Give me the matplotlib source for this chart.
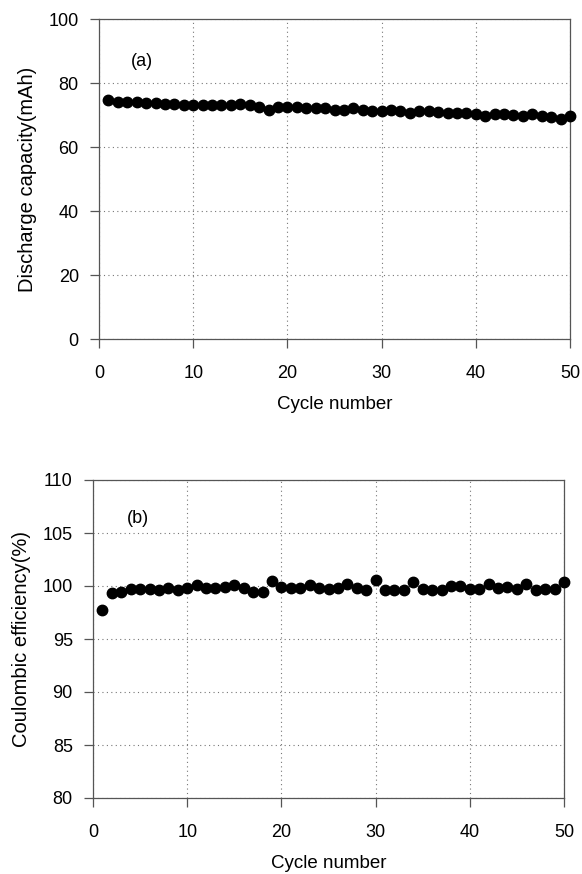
import matplotlib
matplotlib.use("Agg")
import matplotlib.pyplot as plt

# Cycle numbers shared by both panels
cycles = list(range(1, 51))

# (a) discharge capacity per cycle, mAh
capacity = [74.7, 74.2, 74.0, 74.0, 73.8, 73.7, 73.3, 73.3, 73.0, 73.0,
            73.0, 73.0, 73.0, 73.0, 73.3, 73.2, 72.4, 71.7, 72.4, 72.4,
            72.4, 72.1, 72.2, 72.1, 71.6, 71.6, 72.1, 71.7, 71.2, 71.4,
            71.6, 71.2, 70.7, 71.2, 71.4, 71.0, 70.6, 70.6, 70.6, 70.4,
            69.8, 70.4, 70.4, 70.0, 69.6, 70.4, 69.6, 69.3, 68.6, 69.6]

# (b) coulombic efficiency per cycle, %
efficiency = [97.7, 99.3, 99.4, 99.7, 99.7, 99.7, 99.6, 99.85, 99.65, 99.8,
              100.1, 99.85, 99.85, 99.9, 100.1, 99.8, 99.4, 99.4, 100.5, 99.9,
              99.85, 99.8, 100.1, 99.8, 99.7, 99.85, 100.15, 99.8, 99.6, 100.55,
              99.6, 99.6, 99.6, 100.4, 99.7, 99.6, 99.6, 100.0, 100.0, 99.7,
              99.7, 100.2, 99.85, 99.9, 99.7, 100.2, 99.6, 99.7, 99.7, 100.4]

x_ticks = [0, 10, 20, 30, 40, 50]
cap_ticks = [0, 20, 40, 60, 80, 100]
eff_ticks = [80, 85, 90, 95, 100, 105, 110]

plt.rcParams["font.family"] = ["Liberation Sans", "DejaVu Sans"]

fig = plt.figure(figsize=(5.82, 8.74), dpi=100)
ax_a = fig.add_axes([99 / 582, 1 - 339 / 874, 471 / 582, 320 / 874])
ax_b = fig.add_axes([93 / 582, 1 - 798 / 874, 471 / 582, 318 / 874])

spine_color = "#555555"


def style(ax, yticks, ylabel):
    ax.set_xlim(0, 50)
    ax.set_xticks(x_ticks)
    ax.set_ylim(yticks[0], yticks[-1])
    ax.set_yticks(yticks)
    ax.grid(True, linestyle=(0, (1, 3)), color="#777777", linewidth=0.8)
    ax.set_axisbelow(True)
    for s in ax.spines.values():
        s.set_color(spine_color)
        s.set_linewidth(0.9)
    ax.tick_params(direction="out", length=6.5, width=0.9, color=spine_color,
                   labelsize=13, colors="black")
    ax.tick_params(axis="x", pad=12)
    ax.tick_params(axis="y", pad=8)
    ax.set_xlabel("Cycle number", fontsize=13.5, labelpad=10)
    ax.set_ylabel(ylabel, fontsize=14.5, labelpad=8)


ax_a.plot(cycles, capacity, "o", color="black", markersize=7.5, clip_on=False, zorder=3)
style(ax_a, cap_ticks, "Discharge capacity(mAh)")
ax_a.text(4.6, 86.6, "(a)", fontsize=13, ha="center", va="center")

ax_b.plot(cycles, efficiency, "o", color="black", markersize=7.5, clip_on=False, zorder=3)
style(ax_b, eff_ticks, "Coulombic efficiency(%)")
ax_b.text(4.8, 106.4, "(b)", fontsize=13, ha="center", va="center")

fig.savefig("out.png", dpi=100)
